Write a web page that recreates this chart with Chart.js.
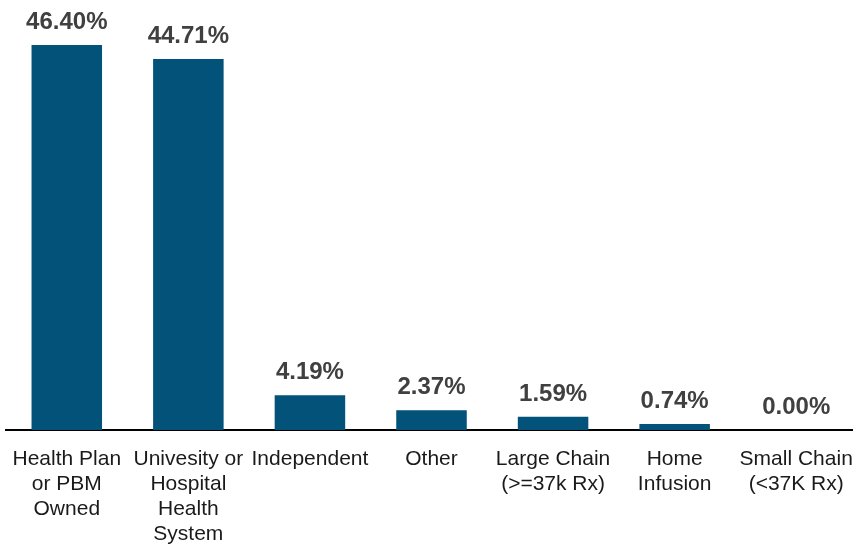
<!DOCTYPE html>
<html>
<head>
<meta charset="utf-8">
<script src="https://cdn.jsdelivr.net/npm/chart.js@4/dist/chart.umd.min.js"></script>
<style>
  html, body { margin: 0; padding: 0; background: #fff; overflow: hidden; }
  #wrap { position: relative; width: 861px; height: 564px; }
</style>
</head>
<body>
<div id="wrap"><canvas id="c"></canvas></div>
<script>
const categories = [
  ['Health Plan', 'or PBM', 'Owned'],
  ['Univesity or', 'Hospital', 'Health', 'System'],
  ['Independent'],
  ['Other'],
  ['Large Chain', '(>=37k Rx)'],
  ['Home', 'Infusion'],
  ['Small Chain', '(<37K Rx)']
];
const shares = [46.40, 44.71, 4.19, 2.37, 1.59, 0.74, 0.00];
const valueLabels = ['46.40%', '44.71%', '4.19%', '2.37%', '1.59%', '0.74%', '0.00%'];

const valuePlugin = {
  id: 'valueLabels',
  afterDatasetsDraw(chart) {
    const ctx = chart.ctx;
    const meta = chart.getDatasetMeta(0);
    ctx.save();
    ctx.font = '600 24px "Liberation Sans", Arial, sans-serif';
    ctx.fillStyle = '#404040';
    ctx.textAlign = 'center';
    ctx.textBaseline = 'alphabetic';
    meta.data.forEach((bar, i) => {
      ctx.fillText(valueLabels[i], bar.x, bar.y - 16);
    });
    ctx.restore();
  }
};

new Chart(document.getElementById('c'), {
  type: 'bar',
  data: {
    labels: categories,
    datasets: [{
      data: shares,
      backgroundColor: '#02527A',
      barPercentage: 0.58,
      categoryPercentage: 1.0
    }]
  },
  options: {
    responsive: true,
    maintainAspectRatio: false,
    animation: false,
    layout: { padding: { left: 6, right: 4, top: 15, bottom: 0 } },
    plugins: { legend: { display: false }, tooltip: { enabled: false } },
    scales: {
      y: { display: false, min: 0, max: 50 },
      x: {
        afterFit(scale) { scale.paddingLeft = 0; scale.paddingRight = 0; },
        grid: { display: false, drawTicks: false },
        border: { display: true, color: '#000000', width: 2 },
        ticks: {
          color: '#1a1a1a',
          padding: 17,
          maxRotation: 0,
          autoSkip: false,
          font: { family: '"Liberation Sans", Arial, sans-serif', size: 21, lineHeight: 1.19 }
        }
      }
    }
  },
  plugins: [valuePlugin]
});
</script>
</body>
</html>
